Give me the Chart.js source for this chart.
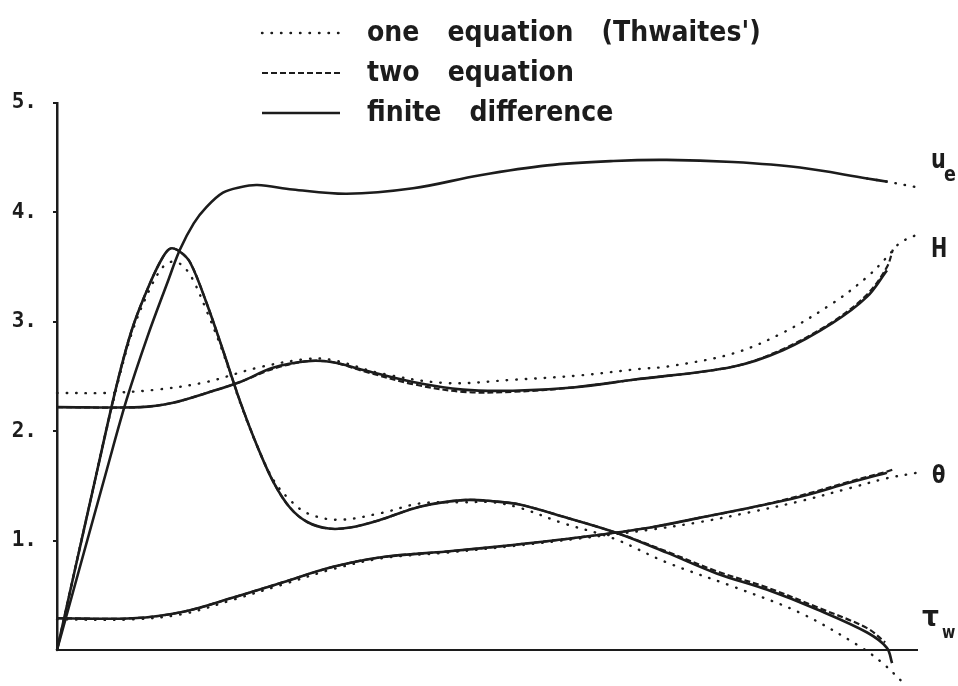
<!DOCTYPE html>
<html>
<head>
<meta charset="utf-8">
<script src="https://cdn.jsdelivr.net/npm/chart.js@4.4.1/dist/chart.umd.min.js"></script>
<style>
  html, body { margin: 0; padding: 0; background: #fff; }
</style>
</head>
<body>
<canvas id="chart" width="958" height="686"></canvas>
<script>
// y ticks on the left axis
const yTicks = [1, 2, 3, 4, 5]

// u_e (edge velocity)
const ueX   = [0, 0.058, 0.081, 0.105, 0.128, 0.143, 0.159, 0.174, 0.193, 0.213, 0.233, 0.274, 0.337, 0.414, 0.492, 0.57, 0.647, 0.709, 0.786, 0.864, 0.942, 0.966]
const ueFD  = [0, 1.65, 2.29, 2.86, 3.35, 3.66, 3.90, 4.05, 4.18, 4.23, 4.25, 4.21, 4.17, 4.22, 4.34, 4.43, 4.47, 4.48, 4.46, 4.41, 4.31, 4.28]
const ueOneX = [0.942, 0.966, 1.0]
const ueOne  = [4.31, 4.28, 4.23]

// H (shape factor)
const hX    = [0, 0.097, 0.135, 0.174, 0.213, 0.251, 0.291, 0.321, 0.356, 0.414, 0.472, 0.53, 0.6, 0.67, 0.786, 0.844, 0.902, 0.942, 0.965]
const hFD   = [2.22, 2.22, 2.26, 2.35, 2.45, 2.58, 2.64, 2.63, 2.56, 2.45, 2.38, 2.37, 2.40, 2.47, 2.59, 2.74, 2.99, 3.23, 3.47]
const hTwoX = [0, 0.097, 0.135, 0.174, 0.213, 0.251, 0.291, 0.321, 0.356, 0.414, 0.472, 0.53, 0.6, 0.67, 0.786, 0.844, 0.902, 0.942, 0.965, 0.972]
const hTwo  = [2.22, 2.22, 2.26, 2.35, 2.45, 2.57, 2.64, 2.63, 2.55, 2.43, 2.36, 2.36, 2.40, 2.47, 2.59, 2.75, 3.00, 3.25, 3.50, 3.66]
const hOneX = [0, 0.058, 0.116, 0.174, 0.233, 0.291, 0.321, 0.376, 0.453, 0.53, 0.608, 0.678, 0.709, 0.786, 0.844, 0.902, 0.942, 0.965, 0.98, 0.998]
const hOne  = [2.35, 2.35, 2.38, 2.45, 2.58, 2.66, 2.65, 2.53, 2.44, 2.47, 2.51, 2.57, 2.59, 2.71, 2.90, 3.17, 3.41, 3.59, 3.72, 3.79]

// theta (momentum thickness)
const thX    = [0, 0.088, 0.147, 0.205, 0.263, 0.321, 0.379, 0.453, 0.53, 0.608, 0.69, 0.748, 0.806, 0.864, 0.922, 0.965]
const thFD   = [0.29, 0.29, 0.35, 0.48, 0.62, 0.76, 0.85, 0.90, 0.96, 1.03, 1.12, 1.21, 1.30, 1.40, 1.53, 1.62]
const thTwoX = [0, 0.088, 0.147, 0.205, 0.263, 0.321, 0.379, 0.453, 0.53, 0.608, 0.69, 0.748, 0.806, 0.864, 0.922, 0.965, 0.972]
const thTwo  = [0.29, 0.29, 0.35, 0.48, 0.62, 0.76, 0.85, 0.90, 0.96, 1.03, 1.12, 1.21, 1.30, 1.41, 1.54, 1.63, 1.65]
const thOneX = [0, 0.088, 0.147, 0.205, 0.263, 0.321, 0.379, 0.453, 0.53, 0.608, 0.69, 0.748, 0.806, 0.864, 0.922, 0.965, 1.0]
const thOne  = [0.28, 0.28, 0.33, 0.46, 0.60, 0.74, 0.84, 0.89, 0.95, 1.02, 1.10, 1.17, 1.26, 1.36, 1.48, 1.57, 1.62]

// tau_w (wall shear)
const tauX    = [0, 0.047, 0.07, 0.088, 0.108, 0.123, 0.132, 0.143, 0.155, 0.174, 0.193, 0.213, 0.233, 0.252, 0.271, 0.291, 0.316, 0.341, 0.376, 0.422, 0.472, 0.507, 0.538, 0.588, 0.651, 0.709, 0.767, 0.826, 0.884, 0.942, 0.965, 0.971]
const tauFD   = [0, 1.65, 2.44, 2.95, 3.35, 3.59, 3.67, 3.64, 3.54, 3.17, 2.74, 2.27, 1.86, 1.53, 1.30, 1.17, 1.11, 1.12, 1.19, 1.31, 1.37, 1.36, 1.33, 1.22, 1.07, 0.89, 0.70, 0.55, 0.37, 0.16, 0.02, -0.12]
const tauTwoX = [0, 0.047, 0.07, 0.088, 0.108, 0.123, 0.132, 0.143, 0.155, 0.174, 0.193, 0.213, 0.233, 0.252, 0.271, 0.291, 0.316, 0.341, 0.376, 0.422, 0.472, 0.507, 0.538, 0.588, 0.651, 0.709, 0.767, 0.826, 0.884, 0.942, 0.963]
const tauTwo  = [0, 1.65, 2.44, 2.95, 3.35, 3.59, 3.67, 3.64, 3.54, 3.17, 2.74, 2.27, 1.86, 1.53, 1.30, 1.17, 1.11, 1.12, 1.19, 1.31, 1.37, 1.36, 1.33, 1.22, 1.07, 0.90, 0.72, 0.57, 0.39, 0.20, 0.07]
const tauOneX = [0, 0.047, 0.07, 0.088, 0.108, 0.123, 0.134, 0.145, 0.157, 0.174, 0.193, 0.213, 0.233, 0.252, 0.271, 0.291, 0.326, 0.376, 0.422, 0.472, 0.507, 0.538, 0.588, 0.647, 0.709, 0.786, 0.864, 0.934, 0.96, 0.984]
const tauOne  = [0, 1.65, 2.42, 2.92, 3.30, 3.50, 3.55, 3.52, 3.40, 3.10, 2.72, 2.26, 1.86, 1.55, 1.37, 1.25, 1.19, 1.25, 1.34, 1.35, 1.35, 1.30, 1.16, 1.02, 0.80, 0.58, 0.34, 0.03, -0.12, -0.30]

const legendLabels = ["one equation (Thwaites')", 'two equation', 'finite difference']

const ink = '#1c1c1c'
const styles = {
  fd:  { borderWidth: 2.6, borderDash: [] },
  two: { borderWidth: 2.2, borderDash: [6, 3] },
  one: { borderWidth: 2.4, borderDash: [0.5, 9], borderCapStyle: 'round' }
}

function pts(xs, ys) {
  return xs.map((x, i) => ({ x: x, y: ys[i] }))
}

function line(label, xs, ys, kind) {
  return Object.assign({
    label: label,
    data: pts(xs, ys),
    borderColor: ink,
    pointRadius: 0,
    tension: 0.35,
    clip: false,
    fill: false
  }, styles[kind])
}

// the plot font is tall and narrow, so squeeze it sideways
function squeezed(ctx, text, x, y, size, sx) {
  ctx.save()
  ctx.font = 'bold ' + size + 'px "DejaVu Sans"'
  ctx.translate(x, y)
  ctx.scale(sx, 1)
  ctx.fillText(text, 0, 0)
  const w = ctx.measureText(text).width * sx
  ctx.restore()
  return w
}

const legendPlugin = {
  id: 'plotLegend',
  afterDraw(chart) {
    const ctx = chart.ctx
    const kinds = ['one', 'two', 'fd']
    const rows = [33, 73, 113]
    ctx.save()
    ctx.strokeStyle = ink
    ctx.fillStyle = ink
    ctx.textBaseline = 'alphabetic'
    kinds.forEach((k, i) => {
      ctx.beginPath()
      ctx.lineWidth = styles[k].borderWidth
      ctx.lineCap = styles[k].borderCapStyle || 'butt'
      ctx.setLineDash(styles[k].borderDash)
      ctx.moveTo(262, rows[i])
      ctx.lineTo(340, rows[i])
      ctx.stroke()
      // wide word gaps as on the plotter
      let x = 367
      legendLabels[i].split(' ').forEach(word => {
        x += squeezed(ctx, word, x, rows[i] + 8, 29, 0.87) + 28
      })
    })
    ctx.restore()
  }
}

const curveLabels = {
  id: 'curveLabels',
  afterDraw(chart) {
    const ctx = chart.ctx
    ctx.save()
    ctx.fillStyle = ink
    ctx.textBaseline = 'alphabetic'
    squeezed(ctx, 'u', 931, 168, 26, 0.8)
    squeezed(ctx, 'e', 944, 181, 22, 0.8)
    squeezed(ctx, 'H', 931, 257, 27, 0.72)
    squeezed(ctx, 'θ', 932, 483, 25, 0.78)
    squeezed(ctx, 'τ', 922, 626, 28, 0.95)
    squeezed(ctx, 'w', 942, 638, 17, 0.85)
    ctx.restore()
  }
}

new Chart('chart', {
  type: 'line',
  data: {
    datasets: [
      line('finite difference', ueX, ueFD, 'fd'),
      line('finite difference', hX, hFD, 'fd'),
      line('finite difference', thX, thFD, 'fd'),
      line('finite difference', tauX, tauFD, 'fd'),
      line('two equation', hTwoX, hTwo, 'two'),
      line('two equation', thTwoX, thTwo, 'two'),
      line('two equation', tauTwoX, tauTwo, 'two'),
      line("one equation (Thwaites')", ueOneX, ueOne, 'one'),
      line("one equation (Thwaites')", hOneX, hOne, 'one'),
      line("one equation (Thwaites')", thOneX, thOne, 'one'),
      line("one equation (Thwaites')", tauOneX, tauOne, 'one')
    ]
  },
  options: {
    responsive: false,
    animation: false,
    devicePixelRatio: 1,
    layout: { padding: { left: 0, right: 41, top: 103, bottom: 0 } },
    plugins: {
      legend: { display: false },
      tooltip: { enabled: false }
    },
    scales: {
      x: {
        type: 'linear',
        min: 0,
        max: 1,
        grid: { display: false },
        border: { display: true, color: ink, width: 2 },
        ticks: { display: false },
        afterFit: (s) => { s.height = 36 }
      },
      y: {
        min: 0,
        max: 5,
        afterBuildTicks: (axis) => { axis.ticks = yTicks.map(v => ({ value: v })) },
        afterFit: (s) => { s.width = 57 },
        grid: { drawOnChartArea: false, drawTicks: true, tickLength: 4, color: ink, lineWidth: 2 },
        border: { display: true, color: ink, width: 2.5 },
        ticks: {
          padding: 16,
          color: ink,
          font: { family: 'DejaVu Sans Mono', weight: 'bold', size: 21 },
          callback: (v) => v + '.'
        }
      }
    }
  },
  plugins: [legendPlugin, curveLabels]
})
</script>
</body>
</html>
